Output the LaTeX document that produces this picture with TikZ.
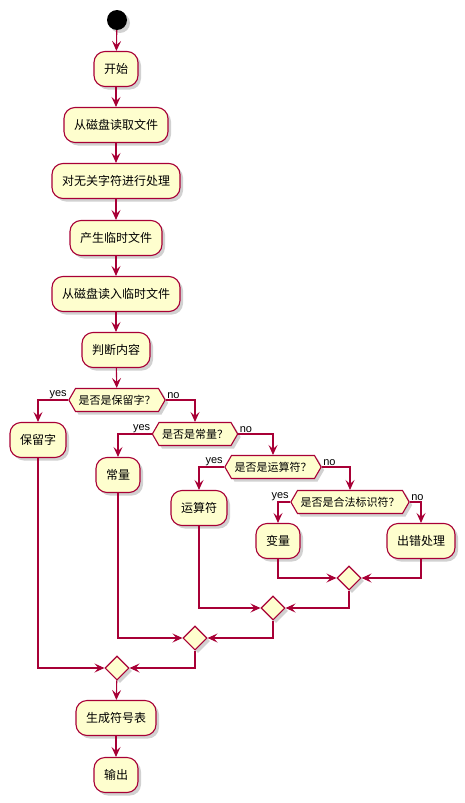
\documentclass[tikz,border=0pt]{standalone}
\usepackage{fontspec}
\setmainfont{Noto Sans CJK SC}
\newfontfamily\latinfont{Liberation Sans}
\usetikzlibrary{shapes.geometric, shapes.symbols, arrows.meta, shadows}
\definecolor{umlred}{HTML}{A80036}
\definecolor{umlfill}{HTML}{FEFECE}

\begin{document}
\begin{tikzpicture}[
    x=1pt, y=-1pt,
    shade/.style={drop shadow={shadow xshift=3pt, shadow yshift=-3pt, opacity=.3, fill=black!60}},
    act/.style={rectangle, draw=umlred, fill=umlfill, rounded corners=11pt, line width=1.1pt, minimum height=35pt, inner xsep=10pt, font=\fontsize{12}{14}\selectfont, shade},
    cond/.style={signal, signal to=east and west, signal pointer angle=120, draw=umlred, fill=umlfill, line width=1.1pt, minimum height=23pt, inner xsep=3pt, font=\fontsize{11}{13}\selectfont, shade},
    merge/.style={diamond, draw=umlred, fill=umlfill, line width=1.1pt, minimum size=24pt, inner sep=0pt, shade},
    arrow/.style={draw=umlred, line width=1.1pt, -{Stealth[length=10pt, width=9pt, inset=4pt]}},
    lbl/.style={font=\latinfont\fontsize{11}{12}\selectfont, inner sep=1pt}
]
    \useasboundingbox (0,0) rectangle (465,803);

    % Main column
    \node[circle, fill=black, minimum size=20pt, inner sep=0pt, shade] (start) at (117,20) {};
    \node[act] (open) at (116,69) {开始};
    \node[act] (readfile) at (116,125) {从磁盘读取文件};
    \node[act] (filter) at (116,181) {对无关字符进行处理};
    \node[act] (mktemp) at (116,238) {产生临时文件};
    \node[act] (readtemp) at (116,294) {从磁盘读入临时文件};
    \node[act] (judge) at (116,350) {判断内容};

    % Decisions
    \node[cond] (isKey) at (117,400) {是否是保留字？};
    \node[act] (key) at (38,440) {保留字};
    \node[cond] (isConst) at (195,434) {是否是常量？};
    \node[act] (const) at (118,475) {常量};
    \node[cond] (isOp) at (273,467) {是否是运算符？};
    \node[act] (op) at (199,508) {运算符};
    \node[cond] (isId) at (350,502) {是否是合法标识符？};
    \node[act] (var) at (278,541) {变量};
    \node[act] (err) at (421,541) {出错处理};

    % Merges
    \node[merge] (m1) at (349,578) {};
    \node[merge] (m2) at (273,608) {};
    \node[merge] (m3) at (195,638) {};
    \node[merge] (m4) at (117,668) {};

    \node[act] (table) at (116,718) {生成符号表};
    \node[act] (out) at (116,775) {输出};

    % Connections
    \draw[arrow] (start) -- (open);
    \draw[arrow] (open) -- (readfile);
    \draw[arrow] (readfile) -- (filter);
    \draw[arrow] (filter) -- (mktemp);
    \draw[arrow] (mktemp) -- (readtemp);
    \draw[arrow] (readtemp) -- (judge);
    \draw[arrow] (judge) -- (isKey);

    \draw[arrow] (isKey.west) node[lbl, above left] {yes} -| (key);
    \draw[arrow] (isKey.east) node[lbl, above right] {no} -| (isConst);
    \draw[arrow] (isConst.west) node[lbl, above left] {yes} -| (const);
    \draw[arrow] (isConst.east) node[lbl, above right] {no} -| (isOp);
    \draw[arrow] (isOp.west) node[lbl, above left] {yes} -| (op);
    \draw[arrow] (isOp.east) node[lbl, above right] {no} -| (isId);
    \draw[arrow] (isId.west) node[lbl, above left] {yes} -| (var);
    \draw[arrow] (isId.east) node[lbl, above right] {no} -| (err);

    \draw[arrow] (var) |- (m1);
    \draw[arrow] (err) |- (m1);
    \draw[arrow] (op) |- (m2);
    \draw[arrow] (m1) |- (m2);
    \draw[arrow] (const) |- (m3);
    \draw[arrow] (m2) |- (m3);
    \draw[arrow] (key) |- (m4);
    \draw[arrow] (m3) |- (m4);

    \draw[arrow] (m4) -- (table);
    \draw[arrow] (table) -- (out);
\end{tikzpicture}
\end{document}
